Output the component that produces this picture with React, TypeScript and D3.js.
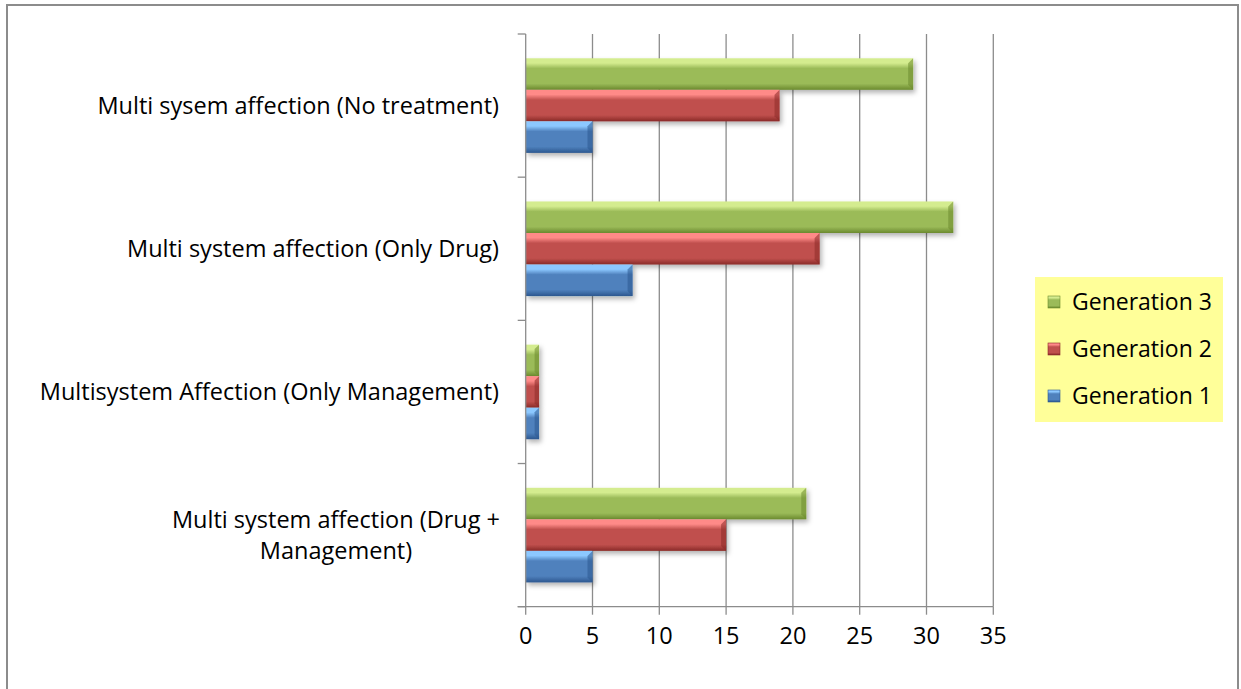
import React, { useRef, useEffect } from 'react';
import * as d3 from 'd3';

const categories = [
  'Multi sysem affection (No treatment)',
  'Multi system affection (Only Drug)',
  'Multisystem Affection (Only Management)',
  'Multi system affection (Drug + Management)',
];
const generation3 = [29, 32, 1, 21];
const generation2 = [19, 22, 1, 15];
const generation1 = [5, 8, 1, 5];
const seriesNames = ['Generation 3', 'Generation 2', 'Generation 1'];
const xTicks = [0, 5, 10, 15, 20, 25, 30, 35];

// label lines as they wrap in the original
const labelLines = [
  ['Multi sysem affection (No treatment)'],
  ['Multi system affection (Only Drug)'],
  ['Multisystem Affection (Only Management)'],
  ['Multi system affection (Drug +', 'Management)'],
];

const palette = [
  { id: 'g3', top: '#d4ec8f', mid: '#9bbb59', bot: '#6b8a2e' },
  { id: 'g2', top: '#ff8a88', mid: '#c0504d', bot: '#8a2a28' },
  { id: 'g1', top: '#8cc8ff', mid: '#4f81bd', bot: '#2c578f' },
];

const W = 1241;
const H = 689;
const FONT = '"Open Sans", Lato, sans-serif';
const FS = 23.5;

const App = () => {
  const svgRef = useRef<SVGSVGElement>(null);

  useEffect(() => {
    const svg = d3.select(svgRef.current);
    svg.selectAll('*').remove();

    const left = 525.7, right = 993.3, top = 34, bottom = 606.7;
    const x = d3.scaleLinear().domain([0, 35]).range([left, right]);
    const y = d3.scaleBand<number>().domain(d3.range(categories.length)).range([top, bottom]);
    const inner = d3.scaleBand<number>().domain([0, 1, 2]).range([0, y.bandwidth()]).paddingOuter(0.77).paddingInner(0);

    const defs = svg.append('defs');
    palette.forEach(p => {
      const g = defs.append('linearGradient').attr('id', 'grad-' + p.id)
        .attr('x1', 0).attr('y1', 0).attr('x2', 0).attr('y2', 1);
      g.append('stop').attr('offset', '0%').attr('stop-color', p.top);
      g.append('stop').attr('offset', '15%').attr('stop-color', p.top);
      g.append('stop').attr('offset', '32%').attr('stop-color', p.mid);
      g.append('stop').attr('offset', '80%').attr('stop-color', p.mid);
      g.append('stop').attr('offset', '100%').attr('stop-color', p.bot);
    });
    const f = defs.append('filter').attr('id', 'shadow').attr('x', '-10%').attr('y', '-20%').attr('width', '130%').attr('height', '160%');
    f.append('feDropShadow').attr('dx', 2).attr('dy', 3).attr('stdDeviation', 2.5).attr('flood-color', '#000').attr('flood-opacity', 0.3);

    // outer frame
    svg.append('rect').attr('x', 7).attr('y', 5).attr('width', 1231).attr('height', 700)
      .attr('fill', '#fff').attr('stroke', '#8c8c8c').attr('stroke-width', 2);

    // gridlines
    svg.append('g').selectAll('line').data(xTicks.slice(1)).join('line')
      .attr('x1', d => x(d)).attr('x2', d => x(d))
      .attr('y1', top).attr('y2', bottom)
      .attr('stroke', '#8c8c8c').attr('stroke-width', 1.3);

    // bars
    const seriesData = [generation3, generation2, generation1];
    seriesData.forEach((vals, si) => {
      const p = palette[si];
      const g = svg.append('g').attr('filter', 'url(#shadow)');
      g.selectAll('rect').data(vals).join('rect')
        .attr('x', x(0))
        .attr('y', (d, i) => y(i)! + inner(si)!)
        .attr('width', d => x(d) - x(0))
        .attr('height', inner.bandwidth())
        .attr('fill', `url(#grad-${p.id})`);
      // bevel at bar ends
      g.selectAll('path').data(vals).join('path')
        .attr('d', (d, i) => {
          const y0 = y(i)! + inner(si)!;
          const h = inner.bandwidth();
          const x1 = x(d);
          const b = Math.min(5, (x1 - x(0)) / 3);
          return `M${x1},${y0}L${x1 - b},${y0 + b}L${x1 - b},${y0 + h - b}L${x1},${y0 + h}Z`;
        })
        .attr('fill', p.bot).attr('opacity', 0.55);
    });

    // y axis
    const yAxis = svg.append('g').attr('stroke', '#8c8c8c').attr('stroke-width', 1.3);
    yAxis.append('line').attr('x1', left).attr('x2', left).attr('y1', top).attr('y2', bottom);
    yAxis.selectAll('line.t').data(d3.range(categories.length + 1)).join('line').attr('class', 't')
      .attr('x1', left - 8).attr('x2', left)
      .attr('y1', i => top + i * y.step()).attr('y2', i => top + i * y.step());

    // x axis
    const xAxis = svg.append('g').attr('stroke', '#8c8c8c').attr('stroke-width', 1.3);
    xAxis.append('line').attr('x1', left - 8).attr('x2', right).attr('y1', bottom).attr('y2', bottom);
    xAxis.selectAll('line.t').data(xTicks).join('line').attr('class', 't')
      .attr('x1', d => x(d)).attr('x2', d => x(d)).attr('y1', bottom).attr('y2', bottom + 8);

    svg.append('g').selectAll('text').data(xTicks).join('text')
      .attr('x', d => x(d)).attr('y', 644)
      .attr('text-anchor', 'middle')
      .attr('font-family', FONT).attr('font-size', FS).attr('fill', '#000')
      .text(d => d);

    // category labels
    labelLines.forEach((lines, i) => {
      const cy = y(i)! + y.bandwidth() / 2;
      const lh = 31;
      const t = svg.append('text')
        .attr('font-family', FONT).attr('font-size', FS).attr('fill', '#000');
      if (lines.length === 1) {
        t.append('tspan').attr('x', 499).attr('y', cy + 8).attr('text-anchor', 'end').text(lines[0]);
      } else {
        // centered lines of a right-aligned block
        const widthGuess = 326;
        const cx = 499 - widthGuess / 2;
        lines.forEach((ln, k) => {
          t.append('tspan').attr('x', cx).attr('y', cy + 8 - lh / 2 + k * lh)
            .attr('text-anchor', 'middle').text(ln);
        });
      }
    });

    // legend
    const lg = svg.append('g');
    lg.append('rect').attr('x', 1035).attr('y', 277).attr('width', 188).attr('height', 145).attr('fill', '#ffff99');
    seriesNames.forEach((name, i) => {
      const cy = 302 + i * 47;
      const p = palette[i];
      lg.append('rect').attr('x', 1048).attr('y', cy - 6).attr('width', 12).attr('height', 12)
        .attr('fill', `url(#grad-${p.id})`).attr('stroke', p.bot).attr('stroke-width', 0.6);
      lg.append('text').attr('x', 1072).attr('y', cy + 8)
        .attr('font-family', FONT).attr('font-size', 23).attr('fill', '#000').text(name);
    });
  }, []);

  return <svg ref={svgRef} width={W} height={H} style={{ position: 'absolute', left: 0, top: 0, background: '#fff' }} />;
};

export default App;
